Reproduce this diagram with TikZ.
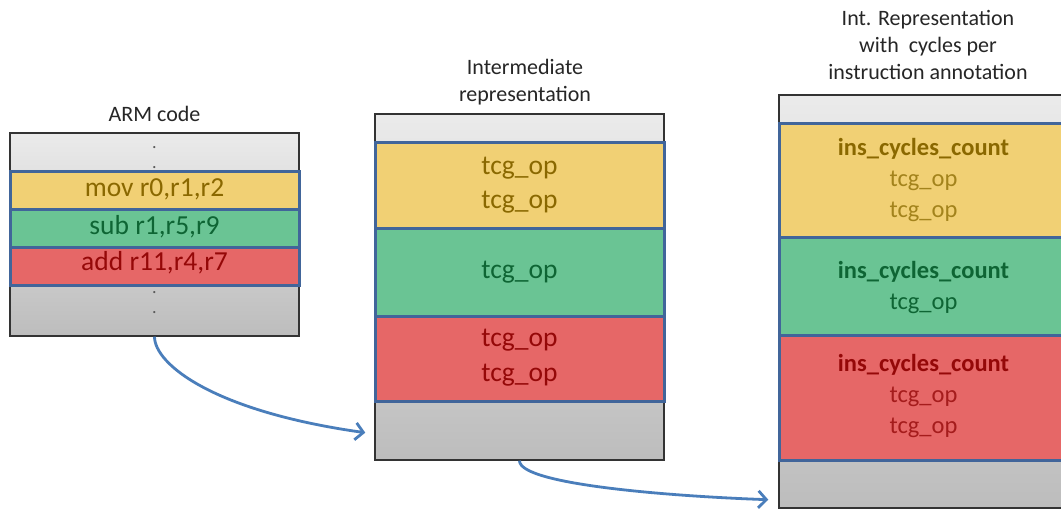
\documentclass[tikz,border=0pt]{standalone}
\usepackage{fontspec}
\setmainfont{Carlito}
\usetikzlibrary{arrows.meta}

\definecolor{rowyellow}{HTML}{F1D074}
\definecolor{rowgreen}{HTML}{6AC494}
\definecolor{rowred}{HTML}{E66767}
\definecolor{txtyellow}{HTML}{8A6800}
\definecolor{txtyellowl}{HTML}{A3831C}
\definecolor{txtgreen}{HTML}{0E6534}
\definecolor{txtred}{HTML}{950808}
\definecolor{txtredl}{HTML}{A51C1C}
\definecolor{rowline}{HTML}{41659A}
\definecolor{flowblue}{HTML}{4A7EBB}

\tikzset{
  block/.style={draw=black!80, line width=1.4pt, top color=black!8, bottom color=black!26,
    inner sep=0pt},
  row/.style={draw=rowline, line width=3pt, inner sep=0pt, minimum width=289},
  title/.style={align=center, font=\fontsize{22}{27}\selectfont, text=black!85},
  code/.style={align=center, font=\fontsize{27.5}{34.5}\selectfont, inner sep=1pt},
  ann/.style={align=center, font=\fontsize{24.5}{31}\selectfont, inner sep=1pt},
  dots/.style={font=\fontsize{18}{20}\selectfont, text=black!65, inner sep=0pt, align=center},
  flow/.style={draw=flowblue, line width=2.8pt, -{Straight Barb[length=8pt, width=17pt, line width=2.8pt]}}
}

\begin{document}
\begin{tikzpicture}[x=1pt, y=-1pt]
\useasboundingbox (0,0) rectangle (1061,510);
\clip (0,0) rectangle (1061,510);
\fill[white] (0,0) rectangle (1061,510);

% ---- ARM code ----
\node[title] (armtitle) at (154.5,114) {ARM code};
\node[block, minimum width=289, minimum height=203] (arm) at (154.5,234.5) {};
\node[dots, anchor=base] (armdotsA) at (154.5,169) {.\\.};
\node[dots, anchor=base] (armdotsB) at (154.5,314) {.\\.};
\node[row, fill=rowyellow, minimum height=38] (armY) at (154.5,191) {};
\node[row, fill=rowgreen,  minimum height=38] (armG) at (154.5,229) {};
\node[row, fill=rowred,    minimum height=38] (armR) at (154.5,267) {};
\node[code, text=txtyellow] at (154.5,189) {mov r0,r1,r2};
\node[code, text=txtgreen]  at (154.5,227) {sub r1,r5,r9};
\node[code, text=txtred]    at (154.5,263) {add r11,r4,r7};

% ---- Intermediate representation ----
\node[title] (irtitle) at (525,82) {Intermediate\\representation};
\node[block, minimum width=289, minimum height=346] (ir) at (519.5,287) {};
\node[row, fill=rowyellow, minimum height=86] (irY) at (519.5,186) {};
\node[row, fill=rowgreen,  minimum height=88] (irG) at (519.5,273) {};
\node[row, fill=rowred,    minimum height=85] (irR) at (519.5,359.5) {};
\node[code, text=txtyellow] at (519.5,185) {tcg\_op\\tcg\_op};
\node[code, text=txtgreen]  at (519.5,272) {tcg\_op};
\node[code, text=txtred]    at (519.5,357.5) {tcg\_op\\tcg\_op};

% ---- Annotated intermediate representation ----
\node[title] (anntitle) at (928,45) {Int. Representation\\with~ cycles per\\instruction annotation};
\node[block, minimum width=289, minimum height=413] (ann) at (923.5,301.5) {};
\node[row, fill=rowyellow, minimum height=114] (annY) at (923.5,181) {};
\node[row, fill=rowgreen,  minimum height=98]  (annG) at (923.5,287) {};
\node[row, fill=rowred,    minimum height=125] (annR) at (923.5,398.5) {};
\node[ann, text=txtyellowl] at (923.5,180) {\textbf{\color{txtyellow}ins\_cycles\_count}\\tcg\_op\\tcg\_op};
\node[ann, text=txtgreen]   at (923.5,288) {\textbf{ins\_cycles\_count}\\tcg\_op};
\node[ann, text=txtredl]    at (923.5,396) {\textbf{\color{txtred}ins\_cycles\_count}\\tcg\_op\\tcg\_op};

% ---- flow arrows ----
\coordinate (irin)  at ([xshift=-9pt, yshift=28pt]ir.south west);
\coordinate (annin) at ([xshift=-10pt, yshift=9pt]ann.south west);
\draw[flow] (arm.south) to[out=-90, in=172, out looseness=0.3, in looseness=1.7] (irin);
\draw[flow] (ir.south) to[out=-90, in=178, out looseness=0.25, in looseness=0.9] (annin);
\end{tikzpicture}
\end{document}
